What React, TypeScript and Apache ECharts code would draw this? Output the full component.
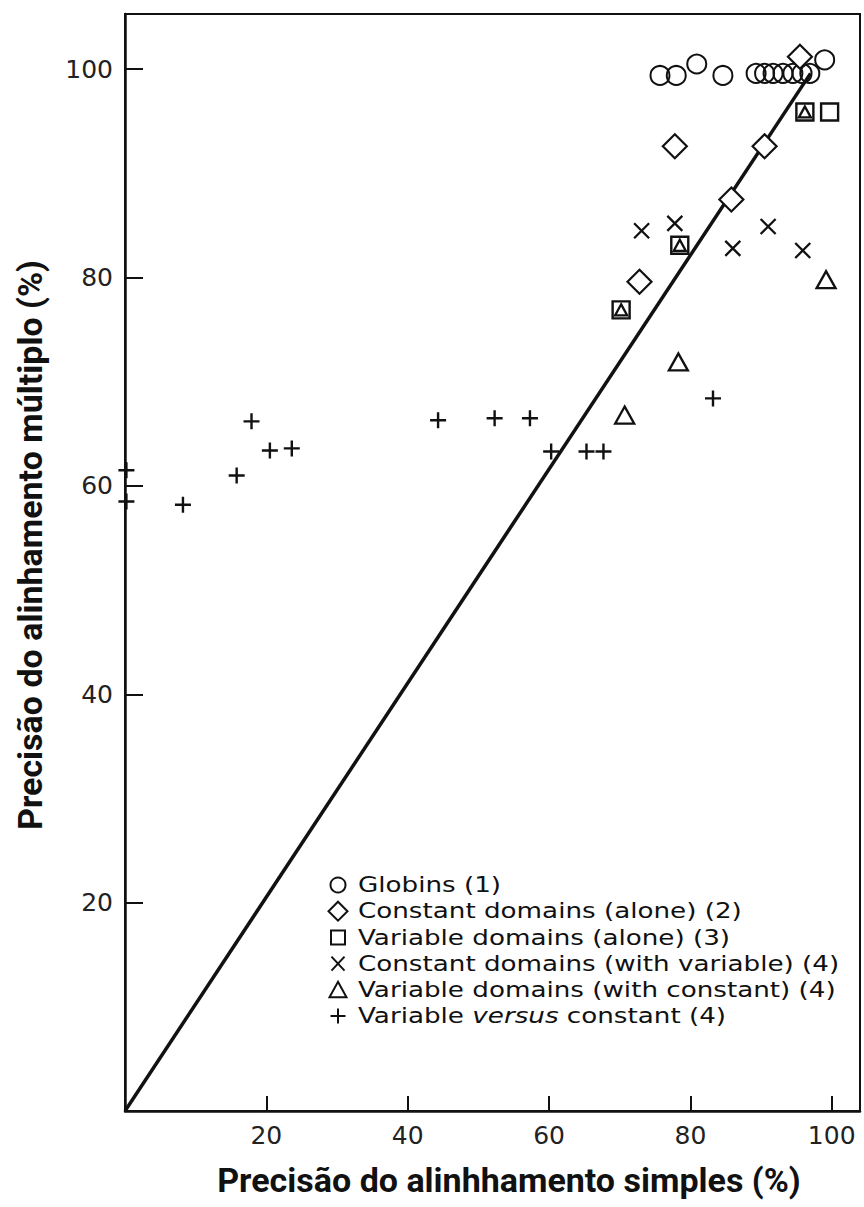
import React, { useEffect, useRef } from "react";
import * as echarts from "echarts";

// ---- data ----
const globinsX = [75.7, 78.0, 80.9, 84.6, 89.3, 90.5, 91.7, 93.1, 94.5, 95.8, 96.9, 99.0];
const globinsY = [99.4, 99.4, 100.5, 99.4, 99.6, 99.6, 99.6, 99.6, 99.6, 99.6, 99.6, 100.9];

const constAloneX = [95.5, 77.8, 90.5, 85.8, 72.8];
const constAloneY = [101.2, 92.6, 92.6, 87.5, 79.6];

const varAloneX = [96.2, 99.7, 78.5, 70.2];
const varAloneY = [95.9, 95.9, 83.1, 76.9];

const constWithVarX = [73.1, 77.8, 86.0, 91.0, 95.9];
const constWithVarY = [84.5, 85.2, 82.8, 84.9, 82.6];

const varWithConstX = [99.2, 78.3, 70.7, 96.2, 78.5, 70.2];
const varWithConstY = [79.8, 71.9, 66.8, 95.9, 83.1, 76.9];

const varVsConstX = [0.2, 0.2, 8.2, 15.8, 17.9, 20.5, 23.6, 44.3, 52.3, 57.3, 60.3, 65.3, 67.7, 83.2];
const varVsConstY = [61.5, 58.5, 58.2, 61.0, 66.2, 63.4, 63.6, 66.3, 66.5, 66.5, 63.3, 63.3, 63.3, 68.4];

const diagonalX = [0, 97];
const diagonalY = [0, 99.6];

const seriesNames = [
  "Globins (1)",
  "Constant domains (alone) (2)",
  "Variable domains (alone) (3)",
  "Constant domains (with variable) (4)",
  "Variable domains (with constant) (4)",
  "Variable versus constant (4)",
];
const legendIcons = ["circle", "diamond", "square", "cross", "triangle", "plus"];

const xTitle = "Precisão do alinhhamento simples (%)";
const yTitle = "Precisão do alinhamento múltiplo (%)";

const xMin = 0;
const xMax = 104;
const yMin = 0;
const yMax = 105.3;
const tickStep = 20;

const zip = (xs: number[], ys: number[]) => xs.map((x, i) => [x, ys[i]]);

const INK = "#111";
const tickFont = "'DejaVu Sans', sans-serif";

// legend layout
const LEG_ICON_X = 338;
const LEG_TEXT_X = 358;
const LEG_TOP = 885;
const LEG_STEP = 26.2;
const LEG_FONT = 22;
const LEG_STRETCH = 1.19;

function legendIcon(kind: string, cx: number, cy: number): any {
  const st = { fill: "none", stroke: INK, lineWidth: 2 };
  switch (kind) {
    case "circle":
      return { type: "circle", shape: { cx, cy, r: 7.5 }, style: st };
    case "diamond":
      return {
        type: "polygon",
        shape: { points: [[cx, cy - 9.5], [cx + 9.5, cy], [cx, cy + 9.5], [cx - 9.5, cy]] },
        style: st,
      };
    case "square":
      return { type: "rect", shape: { x: cx - 7, y: cy - 7, width: 14, height: 14 }, style: st };
    case "cross":
      return {
        type: "group",
        children: [
          { type: "line", shape: { x1: cx - 6.5, y1: cy - 7, x2: cx + 6.5, y2: cy + 7 }, style: st },
          { type: "line", shape: { x1: cx + 6.5, y1: cy - 7, x2: cx - 6.5, y2: cy + 7 }, style: st },
        ],
      };
    case "triangle":
      return {
        type: "polygon",
        shape: { points: [[cx, cy - 8], [cx + 8.5, cy + 7.5], [cx - 8.5, cy + 7.5]] },
        style: st,
      };
    default:
      return {
        type: "group",
        children: [
          { type: "line", shape: { x1: cx, y1: cy - 7.5, x2: cx, y2: cy + 7.5 }, style: st },
          { type: "line", shape: { x1: cx - 7.5, y1: cy, x2: cx + 7.5, y2: cy }, style: st },
        ],
      };
  }
}

export default function App() {
  const ref = useRef<HTMLDivElement>(null);

  useEffect(() => {
    const chart = echarts.init(ref.current!, null, { renderer: "svg" });

    const squarePts = zip(varAloneX, varAloneY);
    const insideSquare = (v: number[]) =>
      squarePts.some((p) => Math.abs(p[0] - v[0]) < 0.01 && Math.abs(p[1] - v[1]) < 0.01);

    const labelFmt = (v: number) => (v > 0 && v % tickStep === 0 ? String(v) : "");

    const hollow = (w: number) => ({
      color: "rgba(255,255,255,0)",
      borderColor: INK,
      borderWidth: w,
      opacity: 1,
    });

    const legendItems: any[] = [];
    seriesNames.forEach((name, i) => {
      const cy = LEG_TOP + i * LEG_STEP;
      legendItems.push(legendIcon(legendIcons[i], LEG_ICON_X, cy));
      const isVersus = name.indexOf("versus") >= 0;
      legendItems.push({
        type: "text",
        x: LEG_TEXT_X,
        y: cy,
        scaleX: LEG_STRETCH,
        style: {
          text: isVersus ? "{n|Variable }{i|versus}{n| constant (4)}" : name,
          fontFamily: tickFont,
          fontSize: LEG_FONT,
          fill: INK,
          align: "left",
          verticalAlign: "middle",
          rich: {
            n: { fontFamily: tickFont, fontSize: LEG_FONT, fill: INK },
            i: { fontFamily: tickFont, fontSize: LEG_FONT, fill: INK, fontStyle: "italic" },
          },
        },
      });
    });

    chart.setOption({
      animation: false,
      backgroundColor: "#ffffff",
      grid: {
        left: 125,
        right: 4,
        top: 14,
        bottom: 96,
        show: true,
        borderColor: INK,
        borderWidth: 2,
        backgroundColor: "transparent",
      },
      xAxis: {
        type: "value",
        min: xMin,
        max: xMax,
        interval: tickStep,
        splitLine: { show: false },
        axisLine: { show: true, lineStyle: { color: INK, width: 2.5 } },
        axisTick: { show: true, inside: true, length: 15, lineStyle: { color: INK, width: 2 } },
        axisLabel: {
          formatter: labelFmt,
          margin: 12,
          color: "#222",
          fontFamily: tickFont,
          fontSize: 25,
        },
      },
      yAxis: {
        type: "value",
        min: yMin,
        max: yMax,
        interval: tickStep,
        splitLine: { show: false },
        axisLine: { show: true, lineStyle: { color: INK, width: 2.5 } },
        axisTick: { show: true, inside: true, length: 18, lineStyle: { color: INK, width: 2 } },
        axisLabel: {
          formatter: labelFmt,
          margin: 12,
          color: "#222",
          fontFamily: tickFont,
          fontSize: 25,
        },
      },
      graphic: [
        { type: "group", children: legendItems },
        {
          type: "text",
          x: 509,
          y: 1180,
          style: {
            text: xTitle,
            fontFamily: "Roboto, sans-serif",
            fontWeight: "bold",
            fontSize: 34,
            fill: INK,
            align: "center",
            verticalAlign: "middle",
          },
        },
        {
          type: "text",
          x: 30,
          y: 545,
          rotation: Math.PI / 2,
          style: {
            text: yTitle,
            fontFamily: "Roboto, sans-serif",
            fontWeight: "bold",
            fontSize: 34,
            fill: INK,
            align: "center",
            verticalAlign: "middle",
          },
        },
      ],
      series: [
        {
          name: "diagonal",
          type: "line",
          data: zip(diagonalX, diagonalY),
          showSymbol: false,
          symbol: "none",
          lineStyle: { color: INK, width: 3.5 },
          z: 1,
          silent: true,
        },
        {
          name: seriesNames[0],
          type: "scatter",
          symbol: "circle",
          symbolSize: 19,
          data: zip(globinsX, globinsY),
          itemStyle: hollow(2),
          z: 3,
        },
        {
          name: seriesNames[1],
          type: "scatter",
          symbol: "diamond",
          symbolSize: 24,
          data: zip(constAloneX, constAloneY),
          itemStyle: { color: "#ffffff", borderColor: INK, borderWidth: 2.2, opacity: 1 },
          z: 4,
        },
        {
          name: seriesNames[2],
          type: "scatter",
          symbol: "rect",
          symbolSize: 17,
          data: zip(varAloneX, varAloneY),
          itemStyle: hollow(2.4),
          z: 3,
        },
        {
          name: seriesNames[3],
          type: "scatter",
          symbol: "path://M0,0L10,10M10,0L0,10",
          symbolSize: 15,
          data: zip(constWithVarX, constWithVarY),
          itemStyle: hollow(2.3),
          z: 3,
        },
        {
          name: seriesNames[4],
          type: "scatter",
          symbol: "triangle",
          symbolSize: (v: number[]) => (insideSquare(v) ? [12, 11] : [19, 17]),
          data: zip(varWithConstX, varWithConstY),
          itemStyle: hollow(2.3),
          z: 3,
        },
        {
          name: seriesNames[5],
          type: "scatter",
          symbol: "path://M5,0L5,10M0,5L10,5",
          symbolSize: 16,
          data: zip(varVsConstX, varVsConstY),
          itemStyle: hollow(2.4),
          z: 3,
        },
      ],
    });

    return () => chart.dispose();
  }, []);

  return (
    <div
      ref={ref}
      style={{ position: "absolute", left: 0, top: 0, width: 864, height: 1207 }}
    />
  );
}
